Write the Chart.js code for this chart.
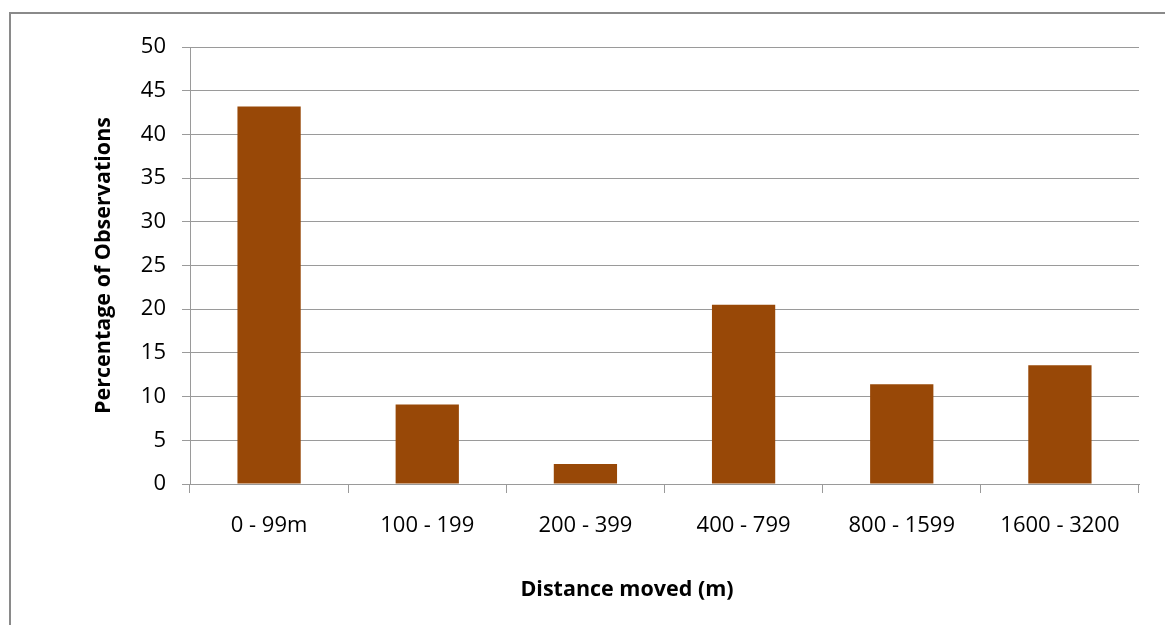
<!DOCTYPE html>
<html>
<head>
<meta charset="utf-8">
<script src="https://cdn.jsdelivr.net/npm/chart.js@4/dist/chart.umd.min.js"></script>
<style>
  html, body { margin: 0; padding: 0; background: #fff; overflow: hidden; }
  #moldura { position: absolute; left: 9px; top: 12px; width: 1300px; height: 800px; border: 2px solid #8a8a8a; }
  #caixa { position: absolute; left: 0; top: 0; width: 1165px; height: 625px; }
  #titulo-x { position: absolute; top: 573px; left: 427px; width: 400px; text-align: center;
    font: bold 21.5px "Open Sans", sans-serif; color: #000; }
</style>
</head>
<body>
<div id="moldura"></div>
<div id="caixa"><canvas id="grafico"></canvas></div>
<div id="titulo-x">Distance moved (m)</div>
<script>
// Dados do gráfico
const categorias = ['0 - 99m', '100 - 199', '200 - 399', '400 - 799', '800 - 1599', '1600 - 3200'];
const percentuais = [43.2, 9.1, 2.3, 20.5, 11.4, 13.6];
const marcasY = [0, 5, 10, 15, 20, 25, 30, 35, 40, 45, 50];

const corBarra = '#984807';
const corGrade = '#9a9a9a';

const ctx = document.getElementById('grafico').getContext('2d');

new Chart(ctx, {
    type: 'bar',
    data: {
        labels: categorias,
        datasets: [{
            label: 'Percentage of Observations',
            data: percentuais,
            backgroundColor: corBarra,
            borderWidth: 0,
            barPercentage: 0.8,
            categoryPercentage: 0.5
        }]
    },
    options: {
        responsive: true,
        maintainAspectRatio: false,
        animation: false,
        layout: { padding: { left: 0, top: 47, right: 26, bottom: 0 } },
        plugins: {
            legend: { display: false },
            tooltip: { enabled: false }
        },
        scales: {
            x: {
                grid: { drawOnChartArea: false, color: corGrade, tickLength: 9, offset: true },
                border: { color: corGrade },
                ticks: { color: '#000', padding: 20, font: { family: 'Open Sans', size: 22 } },
                afterFit: (s) => { s.height = 625 - 484; }
            },
            y: {
                min: 0,
                max: 50,
                afterBuildTicks: (s) => { s.ticks = marcasY.map(v => ({ value: v })); },
                grid: { color: corGrade, tickLength: 8 },
                border: { color: corGrade },
                ticks: { color: '#000', padding: 16, font: { family: 'Open Sans', size: 22 } },
                title: {
                    display: true,
                    text: 'Percentage of Observations',
                    color: '#000',
                    font: { family: 'Open Sans', size: 21.5, weight: 'bold' },
                    padding: { top: 91, bottom: 0 }
                },
                afterFit: (s) => { s.width = 190; }
            }
        }
    }
});
</script>
</body>
</html>
